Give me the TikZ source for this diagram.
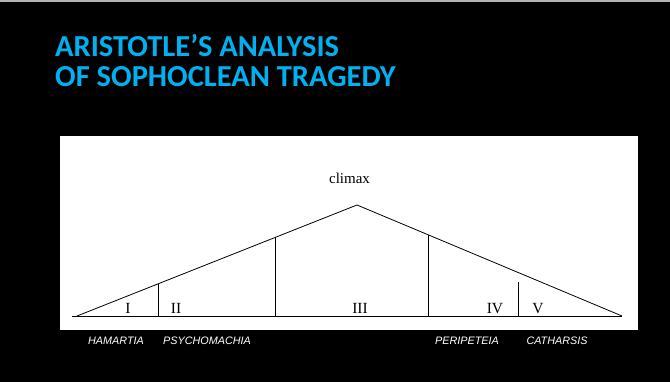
\documentclass[tikz,border=0pt]{standalone}
\usepackage{fontspec}
\setmainfont{Liberation Serif}
\newfontfamily\titlefont{Carlito}
\newfontfamily\labfont{Liberation Sans}
\definecolor{titlecyan}{HTML}{00B0F0}
\begin{document}
\begin{tikzpicture}[x=1pt,y=1pt,
  seg/.style={line width=0.8pt, black},
  numeral/.style={font=\fontsize{15.5}{15.5}\selectfont, inner sep=0pt, anchor=base},
  term/.style={font=\labfont\itshape\fontsize{10.8}{11}\selectfont, text=white, inner sep=0pt},
  heading/.style={font=\titlefont\bfseries\fontsize{30.5}{32}\selectfont, text=titlecyan, inner sep=0pt, anchor=base west}]
\useasboundingbox (0,0) rectangle (670,382);
\fill[black] (0,0) rectangle (670,382);
\fill[gray!60] (0,380) rectangle (670,382);
\fill[white] (60,52) rectangle (638,246);
% title
\node[heading] (t1) at (55,325.3) {ARISTOTLE’S ANALYSIS};
\node[heading] (t2) at (55,295.3) {OF SOPHOCLEAN TRAGEDY};
% triangle
\coordinate (bl) at (72,66);
\coordinate (lv) at (77,66);
\coordinate (rv) at (622,66);
\coordinate (apex) at (357,177);
\draw[seg] (bl) -- (rv);
\draw[seg] (lv) -- (apex) -- (rv);
% verticals
\coordinate (v1b) at (158,66); \coordinate (v1t) at (158,98);
\coordinate (v2b) at (275,66); \coordinate (v2t) at (275,144.5);
\coordinate (v3b) at (428,66); \coordinate (v3t) at (428,147);
\coordinate (v4b) at (518,66); \coordinate (v4t) at (518,100);
\draw[seg] (v1b) -- (v1t);
\draw[seg] (v2b) -- (v2t);
\draw[seg] (v3b) -- (v3t);
\draw[seg] (v4b) -- (v4t);
% labels
\node[font=\fontsize{15}{15}\selectfont, inner sep=0pt, anchor=base] (climax) at (349.5,198) {climax};
\node[numeral] (n1) at (128,68.7) {I};
\node[numeral] (n2) at (176,68.7) {II};
\node[numeral] (n3) at (360,68.7) {III};
\node[numeral] (n4) at (495,68.7) {IV};
\node[numeral] (n5) at (538,68.7) {V};
\node[term] (h1) at (116,41) {HAMARTIA};
\node[term] (h2) at (207,41) {PSYCHOMACHIA};
\node[term] (h3) at (467,41) {PERIPETEIA};
\node[term] (h4) at (557,41) {CATHARSIS};
\end{tikzpicture}
\end{document}
